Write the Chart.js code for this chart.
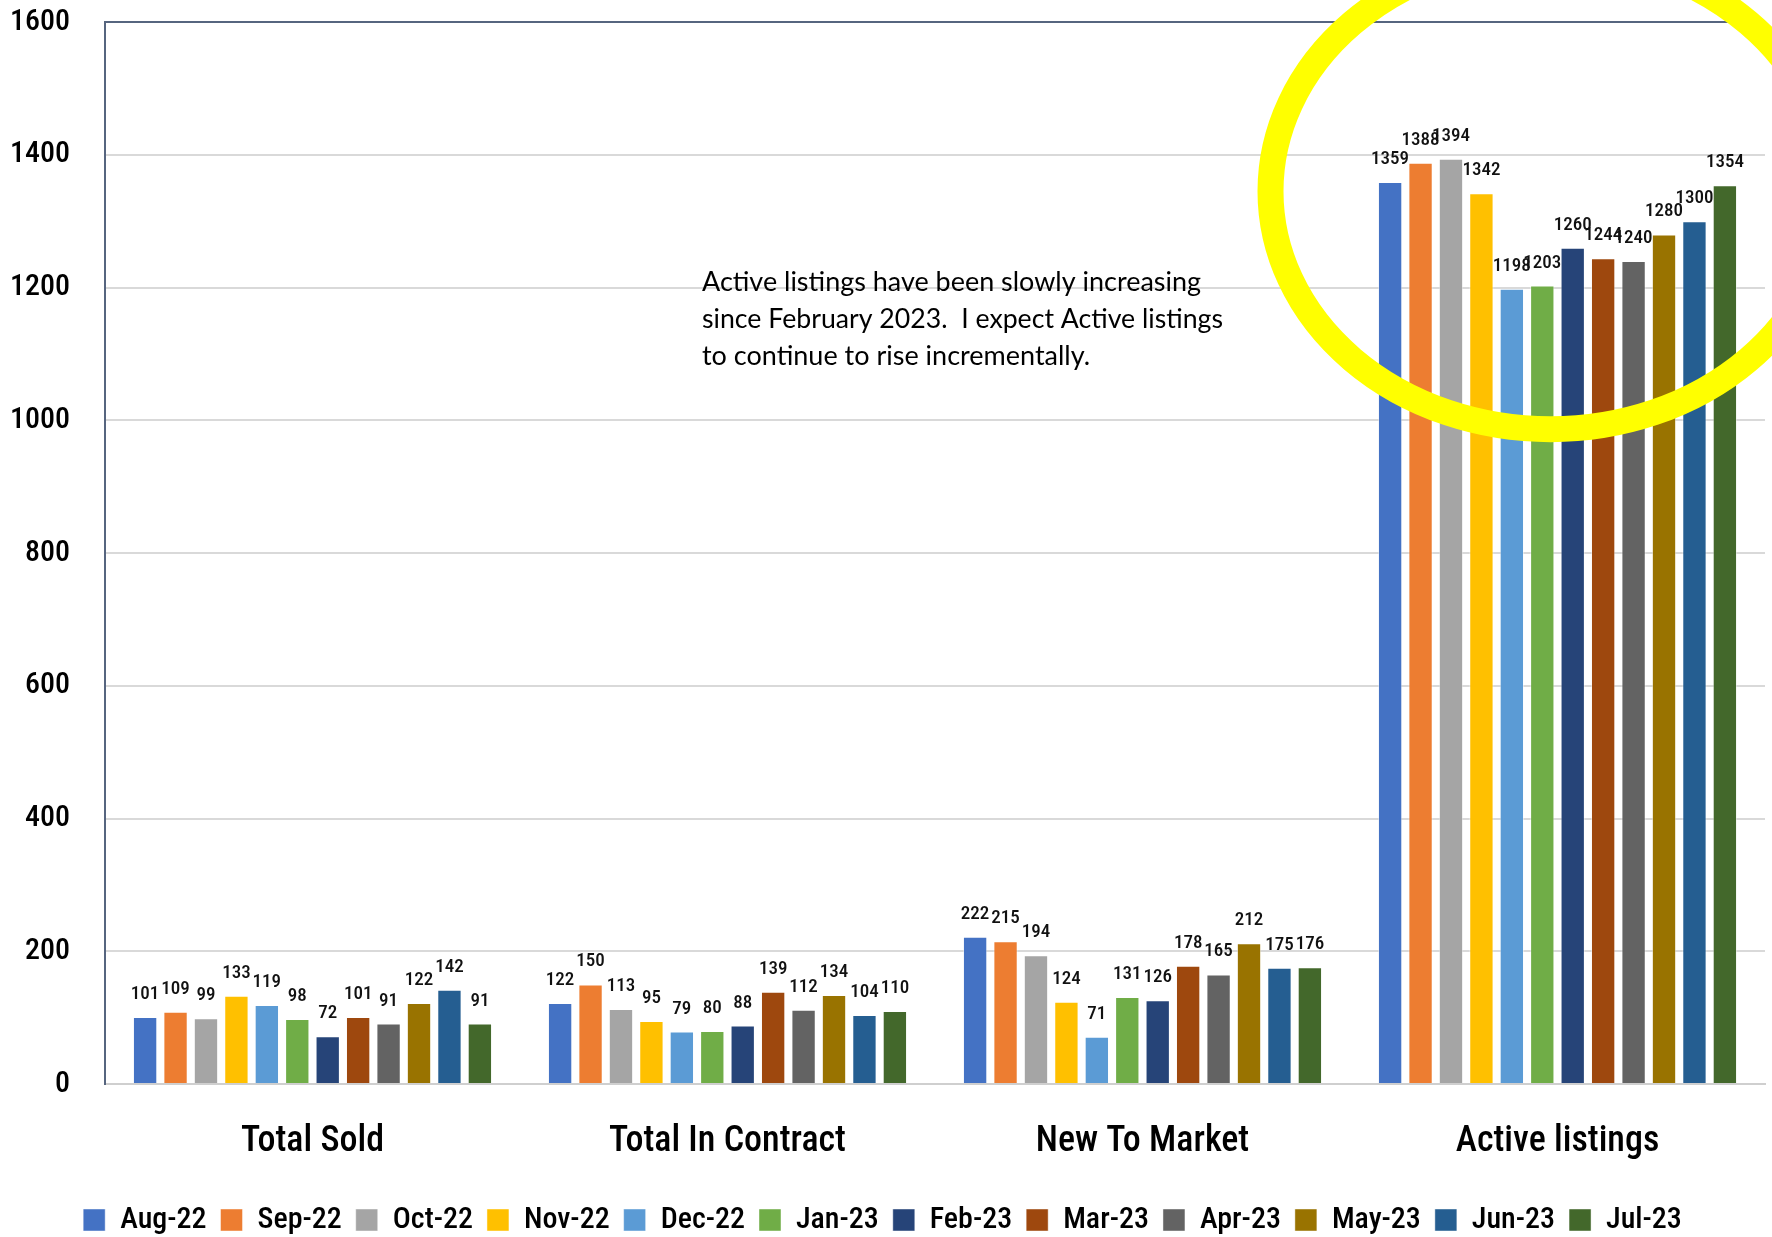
<!DOCTYPE html>
<html>
<head>
<meta charset="utf-8">
<script src="https://cdn.jsdelivr.net/npm/chart.js@4/dist/chart.umd.min.js"></script>
<style>
  html, body { margin: 0; padding: 0; background: #fff; }
  canvas { display: block; }
</style>
</head>
<body>
<canvas id="graficoMercado" width="1772" height="1237"></canvas>
<script>
const categories = ['Total Sold', 'Total In Contract', 'New To Market', 'Active listings'];
const months = ['Aug-22', 'Sep-22', 'Oct-22', 'Nov-22', 'Dec-22', 'Jan-23',
                'Feb-23', 'Mar-23', 'Apr-23', 'May-23', 'Jun-23', 'Jul-23'];

// one value per month for each category
const totalSold       = [101, 109, 99, 133, 119, 98, 72, 101, 91, 122, 142, 91];
const totalInContract = [122, 150, 113, 95, 79, 80, 88, 139, 112, 134, 104, 110];
const newToMarket     = [222, 215, 194, 124, 71, 131, 126, 178, 165, 212, 175, 176];
const activeListings  = [1359, 1388, 1394, 1342, 1198, 1203, 1260, 1244, 1240, 1280, 1300, 1354];

const monthColors = ['#4472C4', '#ED7D31', '#A5A5A5', '#FFC000', '#5B9BD5', '#70AD47',
                     '#264478', '#9E480E', '#636363', '#997300', '#255E91', '#43682B'];

const yMin = 0, yMax = 1600, yStep = 200;

const noteLines = [
  'Active listings have been slowly increasing',
  'since February 2023.  I expect Active listings',
  'to continue to rise incrementally.'
];

const axisDark = '#56657F';

// find a narrow face: a Narrow family if present, otherwise a width axis, otherwise DejaVu Condensed
const probe = document.createElement('canvas').getContext('2d');
function textWidth(font, text) {
  probe.font = '10px monospace';
  probe.font = font;
  return probe.measureText(text).width;
}
function pickFont() {
  const sample = 'Total Sold 1600 Aug-22';
  const base = textWidth('100px monospace', sample);
  const narrowW = textWidth("100px 'Liberation Sans Narrow', monospace", sample);
  if (Math.abs(narrowW - base) > 1) return { family: "'Liberation Sans Narrow'", weight: 'normal' };
  for (const fam of ['Roboto', 'Open Sans', 'Noto Sans']) {
    const normal = textWidth(`100px '${fam}'`, sample);
    const cond = textWidth(`500 condensed 100px '${fam}'`, sample);
    if (cond < normal * 0.92 && cond > normal * 0.5) return { family: `'${fam}'`, weight: '500 condensed' };
  }
  return { family: "'DejaVu Sans Condensed', 'DejaVu Sans'", weight: 'normal' };
}
const face = pickFont();
function sizeFor(text, target, cap) {
  const w = textWidth(`${face.weight} 100px ${face.family}`, text);
  return Math.min(cap, Math.round(100 * target / w));
}
const yTickSize   = sizeFor('1600', 59, 34);
const xLabelSize  = sizeFor('Total In Contract', 234, 46);
const legendSize  = sizeFor('Aug-22', 87, 34);
const valueSize   = sizeFor('1388', 37, 23);

const datasets = months.map((m, i) => ({
  label: m,
  data: [totalSold[i], totalInContract[i], newToMarket[i], activeListings[i]],
  backgroundColor: monthColors[i],
  borderColor: 'rgba(255,255,255,0.45)',
  borderWidth: 1,
  categoryPercentage: 0.88,
  barPercentage: 0.8
}));

// numbers above every bar
const valueLabels = {
  id: 'valueLabels',
  afterDatasetsDraw(chart) {
    const ctx = chart.ctx;
    ctx.save();
    ctx.font = `${face.weight} ${valueSize}px ${face.family}`;
    ctx.fillStyle = '#111';
    ctx.textAlign = 'center';
    ctx.textBaseline = 'alphabetic';
    chart.data.datasets.forEach((ds, i) => {
      chart.getDatasetMeta(i).data.forEach((bar, j) => {
        ctx.fillText(String(ds.data[j]), bar.x, bar.y - 18);
      });
    });
    ctx.restore();
  }
};

// comment text and the yellow ring around the active listings
const noteAndRing = {
  id: 'noteAndRing',
  afterDraw(chart) {
    const ctx = chart.ctx;
    const x = chart.scales.x, y = chart.scales.y;
    ctx.save();
    ctx.font = '27px Lato, "Open Sans", sans-serif';
    ctx.fillStyle = '#000';
    ctx.textAlign = 'left';
    ctx.textBaseline = 'alphabetic';
    const widths = [499, 521, 394];
    noteLines.forEach((t, k) => ctx.fillText(t, 702, 291 + k * 37, widths[k]));

    ctx.beginPath();
    ctx.ellipse(x.getPixelForValue(3) - 7, y.getPixelForValue(1345), 280, 238, 0, 0, Math.PI * 2);
    ctx.lineWidth = 26;
    ctx.strokeStyle = '#FFFF00';
    ctx.stroke();
    ctx.restore();
  }
};

// push the legend row a little lower
const legendNudge = {
  id: 'legendNudge',
  afterLayout(chart) {
    chart.legend.top += 8;
    chart.legend.bottom += 8;
  }
};

new Chart(document.getElementById('graficoMercado').getContext('2d'), {
  type: 'bar',
  data: { labels: categories, datasets: datasets },
  options: {
    responsive: false,
    animation: false,
    devicePixelRatio: 1,
    layout: { padding: { top: 22, right: 7, left: 0, bottom: 0 } },
    plugins: {
      legend: {
        position: 'bottom',
        labels: {
          boxWidth: 22,
          boxHeight: 22,
          padding: 14,
          color: '#000',
          font: { family: face.family, weight: face.weight, size: legendSize }
        }
      },
      tooltip: { enabled: false }
    },
    scales: {
      x: {
        grid: { display: false, drawTicks: false },
        border: { display: true, color: '#CFCFCF', width: 2 },
        ticks: { color: '#000', padding: 36, font: { family: face.family, weight: face.weight, size: xLabelSize } },
        afterFit(scale) {
          scale.height = 99;
          scale.paddingLeft = 0;
          scale.paddingRight = 0;
        }
      },
      y: {
        min: yMin,
        max: yMax,
        ticks: {
          stepSize: yStep,
          color: '#000',
          padding: 35,
          font: { family: face.family, weight: face.weight, size: yTickSize },
          callback: v => String(v)
        },
        grid: {
          drawTicks: false,
          lineWidth: 2,
          color: c => (c.tick && c.tick.value === yMax ? axisDark : '#D9D9D9')
        },
        border: { display: true, color: axisDark, width: 2 },
        afterFit(scale) {
          scale.width = 105;
          scale.paddingTop = 0;
          scale.paddingBottom = 0;
        }
      }
    }
  },
  plugins: [valueLabels, noteAndRing, legendNudge]
});
</script>
</body>
</html>
